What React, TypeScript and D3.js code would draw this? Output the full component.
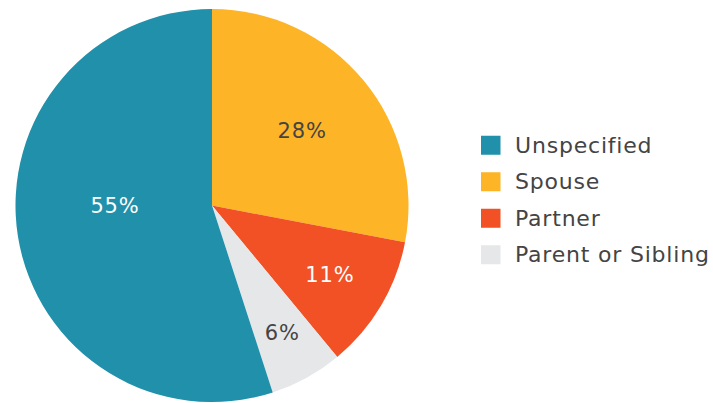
import React from "react";
import * as d3 from "d3";

const categories = ["Spouse", "Partner", "Parent or Sibling", "Unspecified"];
const values = [28, 11, 6, 55];
const legendOrder = ["Unspecified", "Spouse", "Partner", "Parent or Sibling"];

const colors: Record<string, string> = {
  Unspecified: "#2190aa",
  Spouse: "#fdb426",
  Partner: "#f15125",
  "Parent or Sibling": "#e6e7e9",
};
const labelColors: Record<string, string> = {
  Unspecified: "#ffffff",
  Spouse: "#444444",
  Partner: "#ffffff",
  "Parent or Sibling": "#444444",
};
const labelRadius: Record<string, number> = {
  Unspecified: 97,
  Spouse: 117,
  Partner: 137,
  "Parent or Sibling": 146,
};
const labelAngleShift: Record<string, number> = {
  Unspecified: 9,
  Spouse: 0,
  Partner: 0,
  "Parent or Sibling": 0,
};

const W = 713;
const H = 403;
const cx = 212;
const cy = 205.5;
const R = 196.5;
const FONT = "'DejaVu Sans', sans-serif";

export default function App() {
  const data = categories.map((c, i) => ({ c, v: values[i] }));
  const pie = d3.pie<{ c: string; v: number }>().value((d) => d.v).sort(null);
  const arcs = pie(data);
  const arc = d3.arc<d3.PieArcDatum<{ c: string; v: number }>>().innerRadius(0).outerRadius(R);
  const total = d3.sum(values);

  const legendY = d3.scaleBand().domain(legendOrder).range([127, 273]);

  return (
    <div style={{ position: "absolute", left: 0, top: 0 }}>
      <svg width={W} height={H} style={{ display: "block" }}>
        <rect width={W} height={H} fill="#fff" />
        <g transform={`translate(${cx},${cy})`}>
          {arcs.map((a) => (
            <path key={a.data.c} d={arc(a) || ""} fill={colors[a.data.c]} />
          ))}
          {arcs.map((a) => {
            const mid = (a.startAngle + a.endAngle) / 2 + (labelAngleShift[a.data.c] * Math.PI) / 180;
            const r = labelRadius[a.data.c];
            const x = r * Math.sin(mid);
            const y = -r * Math.cos(mid);
            return (
              <text
                key={a.data.c}
                x={x}
                y={y}
                textAnchor="middle"
                dominantBaseline="central"
                fontFamily={FONT}
                fontSize={21}
                letterSpacing={0.8}
                fill={labelColors[a.data.c]}
              >
                {Math.round((a.data.v / total) * 100)}%
              </text>
            );
          })}
        </g>
        {legendOrder.map((c) => {
          const y = (legendY(c) || 0) + legendY.bandwidth() / 2;
          return (
            <g key={c}>
              <rect x={481} y={y - 9.5} width={19.5} height={19} fill={colors[c]} />
              <text
                x={515}
                y={y}
                dominantBaseline="central"
                fontFamily={FONT}
                fontSize={22}
                letterSpacing={0.8}
                fill="#444"
              >
                {c}
              </text>
            </g>
          );
        })}
      </svg>
    </div>
  );
}
